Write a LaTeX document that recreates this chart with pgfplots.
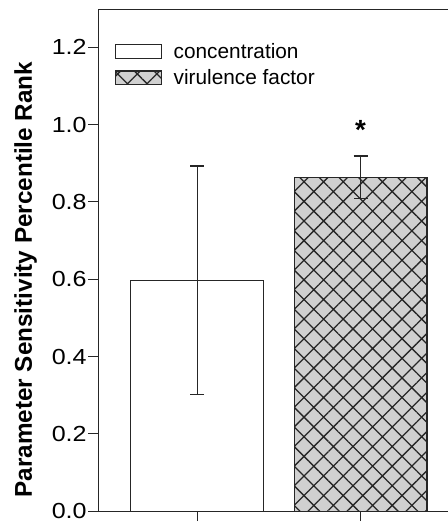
\documentclass[border=0pt]{standalone}
\usepackage{pgfplots}
\pgfplotsset{compat=1.18}
\usepackage{fontspec}
\setmainfont{Liberation Sans}
\newfontfamily\tickfont[FakeStretch=1.15]{Liberation Sans}
\usetikzlibrary{patterns.meta}
\definecolor{barfill}{HTML}{D0D0D0}
\begin{document}
\begin{tikzpicture}
\begin{axis}[
  scale only axis, width=353pt, height=506pt,
  xmin=-0.606, xmax=1.533, ymin=0, ymax=1.297,
  axis x line*=bottom, axis y line*=left,
  axis line style={-, line width=1.1pt, black!85},
  tick style={line width=1pt, black!85},
  tick align=outside, major tick length=10pt,
  xtick={0,1}, xticklabels={},
  ytick={0,0.2,0.4,0.6,0.8,1.0,1.2},
  yticklabel style={/pgf/number format/fixed, /pgf/number format/fixed zerofill, /pgf/number format/precision=1, /pgf/number format/assume math mode=true, xshift=2pt},
  tick label style={font=\tickfont\fontsize{22}{24}\selectfont},
  ylabel={\textbf{Parameter Sensitivity Percentile Rank}},
  every axis y label/.style={at={(rel axis cs:-0.207,0.462)}, anchor=center, rotate=90, font=\fontsize{24.5}{26}\selectfont},
  ybar, bar shift=0pt, bar width=0.812,
  legend style={draw=none, fill=none, anchor=north west, at={(0.048,0.94)}, font=\fontsize{21}{24}\selectfont, row sep=4pt, inner sep=0pt, nodes={inner sep=3pt}},
  legend cell align=left,
  legend image code/.code={\draw[#1] (0pt,-7pt) rectangle (46pt,7pt);},
  clip=false,
]
\addplot[fill=white, draw=black!85, line width=1.2pt,
  error bars/.cd, y dir=both, y explicit,
  error bar style={line width=1.2pt, black!85},
  error mark options={rotate=90, mark size=7pt, line width=1.2pt, black!85}]
  coordinates {(0,0.597) +- (0,0.296)};
\addlegendentry{\hspace{9pt}concentration}
\addplot[fill=barfill, draw=black!85, line width=1.2pt,
  postaction={pattern={Hatch[angle=45,distance=14pt,line width=1.3pt]}, pattern color=black!85},
  error bars/.cd, y dir=both, y explicit,
  error bar style={line width=1.2pt, black!85},
  error mark options={rotate=90, mark size=7pt, line width=1.2pt, black!85}]
  coordinates {(1,0.864) +- (0,0.055)};
\addlegendentry{\hspace{9pt}virulence factor}
\draw[line width=1.1pt, black!85] (rel axis cs:0,1) -- (rel axis cs:1,1);
\node[font=\fontsize{28}{28}\selectfont\bfseries, yshift=-5pt] at (axis cs:1,1.0) {*};
\coordinate (O) at (rel axis cs:0,0);
\coordinate (T) at (rel axis cs:1,1);
\end{axis}
\pgfresetboundingbox
\useasboundingbox ([xshift=-99pt,yshift=-14pt]O) rectangle ([yshift=10pt]T);
\end{tikzpicture}
\end{document}
